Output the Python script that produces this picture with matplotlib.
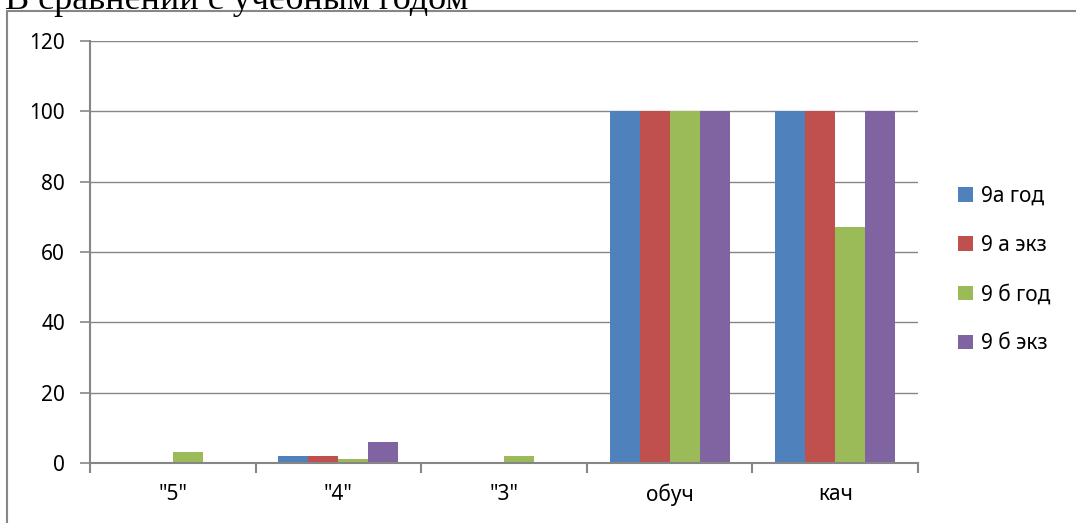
import numpy as np
import matplotlib.pyplot as plt
from matplotlib.patches import Rectangle

# data
categories = ['"5"', '"4"', '"3"', 'обуч', 'кач']
series_names = ['9а год', '9 а экз', '9 б год', '9 б экз']
val_9a_god = [0, 2, 0, 100, 100]
val_9a_ekz = [0, 2, 0, 100, 100]
val_9b_god = [3, 1, 2, 100, 67]
val_9b_ekz = [0, 6, 0, 100, 100]
colors = ['#4F81BD', '#C0504D', '#9BBB59', '#8064A2']

plt.rcParams['font.family'] = ['Noto Sans', 'DejaVu Sans']

fig = plt.figure(figsize=(10.76, 5.23), dpi=100)
ax = fig.add_axes([90 / 1076, 1 - 463 / 523, 828 / 1076, 422 / 523])

# outer frame of the chart (cut by the page)
fig.patches.append(Rectangle((7 / 1076, -0.1), 1.2, 1 - 11 / 523 + 0.1,
                             transform=fig.transFigure, fill=False,
                             edgecolor='#878787', linewidth=1.5))

# cut-off heading above the chart
fig.text(5 / 1076, 1 - 9 / 523, 'В сравнении с учебным годом',
         family='Liberation Serif', fontsize=26, ha='left', va='baseline')

x = np.arange(len(categories))
w = 0.181
all_vals = [val_9a_god, val_9a_ekz, val_9b_god, val_9b_ekz]
for i, (vals, name) in enumerate(zip(all_vals, series_names)):
    ax.bar(x + (i - 1.5) * w, vals, width=w, color=colors[i], label=name,
           zorder=3)

ax.set_xlim(-0.5, 4.5)
ax.set_ylim(0, 120)
ax.set_yticks(range(0, 121, 20))
ax.set_xticks(x)
ax.set_xticklabels(categories, fontsize=15)
ax.set_xticks(np.arange(-0.5, 5, 1), minor=True)
ax.tick_params(axis='x', which='major', length=0, pad=15)
ax.tick_params(axis='x', which='minor', length=7, color='#868686', width=1.5)
ax.tick_params(axis='y', length=7, color='#868686', width=1.2, labelsize=15, pad=11)
ax.grid(axis='y', color='#868686', linewidth=1, zorder=0)
ax.set_axisbelow(True)
for s in ['top', 'right']:
    ax.spines[s].set_visible(False)
for s in ['left', 'bottom']:
    ax.spines[s].set_color('#868686')
    ax.spines[s].set_linewidth(1.5)
    ax.spines[s].set_zorder(4)

ax.legend(loc='center left', bbox_to_anchor=(1.048, 0.457), frameon=False,
          fontsize=15, handlelength=0.72, handleheight=0.72, handletextpad=0.4,
          labelspacing=1.35, borderpad=0, borderaxespad=0)

plt.savefig('out.png', dpi=100)
plt.close()
